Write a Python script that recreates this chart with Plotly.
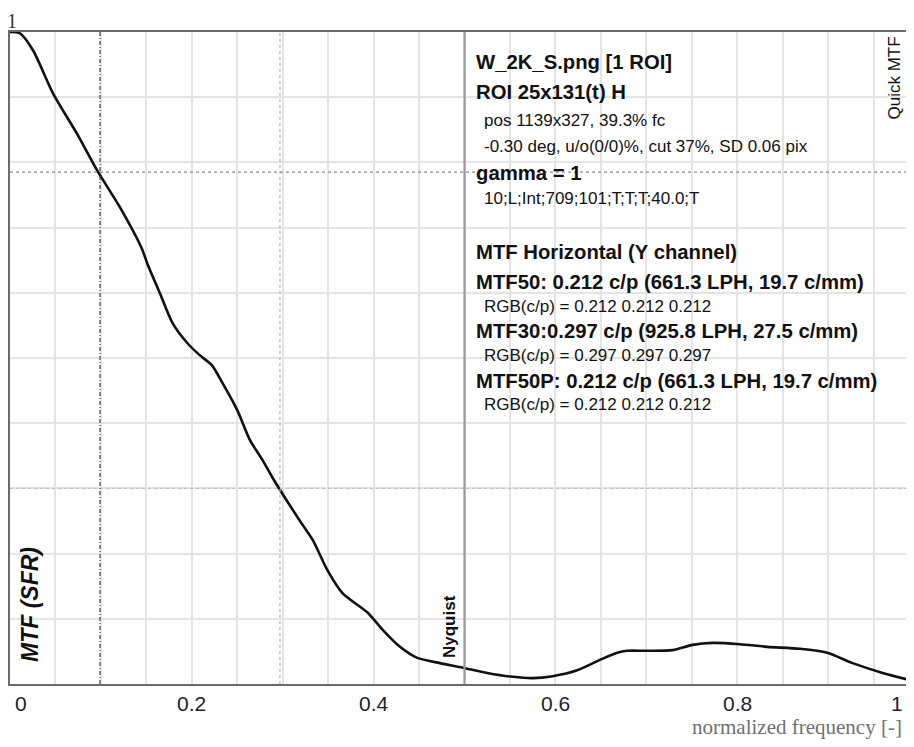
import plotly.graph_objects as go

# ---- data ----
freq = [0.0, 0.011, 0.0253, 0.0473, 0.0737, 0.0957, 0.121, 0.145, 0.151, 0.165,
        0.179, 0.195, 0.209, 0.222, 0.234, 0.250, 0.264, 0.278, 0.289, 0.319,
        0.333, 0.349, 0.366, 0.393, 0.410, 0.429, 0.448, 0.473, 0.498, 0.525,
        0.553, 0.575, 0.597, 0.624, 0.649, 0.668, 0.679, 0.701, 0.729, 0.751,
        0.773, 0.803, 0.833, 0.869, 0.899, 0.927, 0.960, 0.993]
mtf = [1.0, 0.998, 0.972, 0.906, 0.844, 0.788, 0.731, 0.668, 0.645, 0.599,
       0.553, 0.523, 0.504, 0.489, 0.461, 0.420, 0.374, 0.343, 0.316, 0.250,
       0.221, 0.175, 0.139, 0.110, 0.083, 0.057, 0.040, 0.032, 0.025, 0.017,
       0.011, 0.009, 0.012, 0.021, 0.037, 0.048, 0.051, 0.051, 0.052, 0.060,
       0.063, 0.061, 0.057, 0.054, 0.048, 0.032, 0.017, 0.005]

x_tick_vals = [0, 0.2, 0.4, 0.6, 0.8, 1]
x_tick_text = ["0", "0.2", "0.4", "0.6", "0.8", "1"]

nyquist = 0.5
marker_x_dashdot = 0.099
marker_x_mtf30 = 0.297
marker_y_dotted = 0.785
marker_y_mtf30 = 0.3

info_bold = ["W_2K_S.png [1 ROI]", "ROI 25x131(t) H", None, None, "gamma = 1", None,
             "MTF Horizontal (Y channel)", "MTF50: 0.212 c/p (661.3 LPH, 19.7 c/mm)", None,
             "MTF30:0.297 c/p (925.8 LPH, 27.5 c/mm)", None,
             "MTF50P: 0.212 c/p (661.3 LPH, 19.7 c/mm)", None]
info_small = [None, None, "pos 1139x327, 39.3% fc", "-0.30 deg, u/o(0/0)%, cut 37%, SD 0.06 pix",
              None, "10;L;Int;709;101;T;T;T;40.0;T", None, None,
              "RGB(c/p) = 0.212 0.212 0.212", None, "RGB(c/p) = 0.297 0.297 0.297",
              None, "RGB(c/p) = 0.212 0.212 0.212"]

# ---- layout constants (pixels, in screen coordinates; page body has an 8px margin) ----
OFF = 8
W, H = 914 - 2 * OFF, 747 - 2 * OFF      # keep the figure inside the page (no scrollbars)
L, T = 10 - OFF, 32 - OFF
BOTTOM = 684 - OFF
B = H - BOTTOM
R = 0
PX_PER_UNIT = 909.0
PW, PH = W - L - R, H - T - B
XMAX = PW / PX_PER_UNIT
info_py = [62, 92, 120, 146, 173, 199, 252, 282, 306, 331, 355, 381, 405]
RIGHT_EDGE = OFF + W - 1

def px(xs):
    return (xs - OFF - L) / PW

def py(ys):
    return (BOTTOM - (ys - OFF)) / PH

SANS = "Arial, Liberation Sans, sans-serif"
SERIF = "Times New Roman, Liberation Serif, serif"

fig = go.Figure()
fig.add_trace(go.Scatter(x=freq, y=mtf, mode="lines",
                         line=dict(color="#111111", width=2.6, shape="spline", smoothing=0.7),
                         hoverinfo="skip", showlegend=False))

shapes = [
    dict(type="line", xref="x", yref="paper", x0=marker_x_mtf30, x1=marker_x_mtf30, y0=0, y1=1,
         line=dict(color="#b5b5b5", width=1.2, dash="dot")),
    dict(type="line", xref="paper", yref="y", x0=0, x1=1, y0=marker_y_mtf30, y1=marker_y_mtf30,
         line=dict(color="#c0c0c0", width=1.2, dash="dot")),
    dict(type="line", xref="paper", yref="y", x0=0, x1=1, y0=marker_y_dotted, y1=marker_y_dotted,
         line=dict(color="#8a8a8a", width=1.3, dash="dot")),
    dict(type="line", xref="x", yref="paper", x0=marker_x_dashdot, x1=marker_x_dashdot, y0=0, y1=1,
         line=dict(color="#444444", width=1.2, dash="4px,2px,1px,2px")),
    dict(type="line", xref="x", yref="paper", x0=nyquist, x1=nyquist, y0=0, y1=1,
         line=dict(color="#9a9a9a", width=2.2)),
]

ann = []
# x tick labels
for v, t in zip(x_tick_vals, x_tick_text):
    cx = OFF + L + v * PX_PER_UNIT
    if v == x_tick_vals[0]:
        ann.append(dict(x=px(cx + 3), xanchor="left", text=t))
    elif v == x_tick_vals[-1]:
        ann.append(dict(x=px(RIGHT_EDGE), xanchor="right", text=t))
    else:
        ann.append(dict(x=px(cx), xanchor="center", text=t))
for a in ann:
    a.update(xref="paper", yref="paper", y=py(703), yanchor="middle", showarrow=False,
             font=dict(family=SANS, size=21, color="#1c2233"))

ann.append(dict(xref="paper", yref="paper", x=px(RIGHT_EDGE - 1), y=py(727.2), xanchor="right",
                yanchor="middle", text="normalized frequency [-]", showarrow=False,
                font=dict(family=SERIF, size=21, color="#707070")))
ann.append(dict(xref="paper", yref="paper", x=px(12), y=py(21), xanchor="center", yanchor="middle",
                text="1", showarrow=False, font=dict(family=SERIF, size=20, color="#333333")))
ann.append(dict(xref="paper", yref="paper", x=px(30), y=py(605), xanchor="center", yanchor="middle",
                text="<b><i>MTF (SFR)</i></b>", textangle=-90, showarrow=False,
                font=dict(family=SANS, size=23, color="#111111")))
ann.append(dict(xref="paper", yref="paper", x=px(449), y=py(627), xanchor="center", yanchor="middle",
                text="<b>Nyquist</b>", textangle=-90, showarrow=False,
                font=dict(family=SANS, size=17, color="#111111")))
ann.append(dict(xref="paper", yref="paper", x=px(RIGHT_EDGE), y=py(78), xanchor="right",
                yanchor="middle", text="Quick MTF", textangle=-90, showarrow=False,
                font=dict(family=SANS, size=17, color="#111111")))

for b, s, yp in zip(info_bold, info_small, info_py):
    if b:
        ann.append(dict(xref="paper", yref="paper", x=px(474), y=py(yp), xanchor="left",
                        yanchor="middle", text="<b>" + b + "</b>", showarrow=False,
                        font=dict(family=SANS, size=20.3, color="#111111")))
    if s:
        ann.append(dict(xref="paper", yref="paper", x=px(482), y=py(yp), xanchor="left",
                        yanchor="middle", text=s, showarrow=False,
                        font=dict(family=SANS, size=17, color="#111111")))

fig.update_layout(
    width=W, height=H, autosize=False,
    margin=dict(l=L, r=R, t=T, b=B, pad=0),
    paper_bgcolor="white", plot_bgcolor="white",
    shapes=shapes, annotations=ann, showlegend=False,
    xaxis=dict(range=[0, XMAX], dtick=0.05, tick0=0, showgrid=True, gridcolor="#e4e4e4",
               gridwidth=1.5, zeroline=False, showticklabels=False, ticks="",
               showline=True, linecolor="#6a6a6a", linewidth=1.5, mirror=True, fixedrange=True),
    yaxis=dict(range=[0, 1], dtick=0.1, tick0=0, showgrid=True, gridcolor="#e4e4e4",
               gridwidth=1.5, zeroline=False, showticklabels=False, ticks="",
               showline=True, linecolor="#6a6a6a", linewidth=1.5, mirror=False, fixedrange=True),
)

fig.write_html("out.html")
